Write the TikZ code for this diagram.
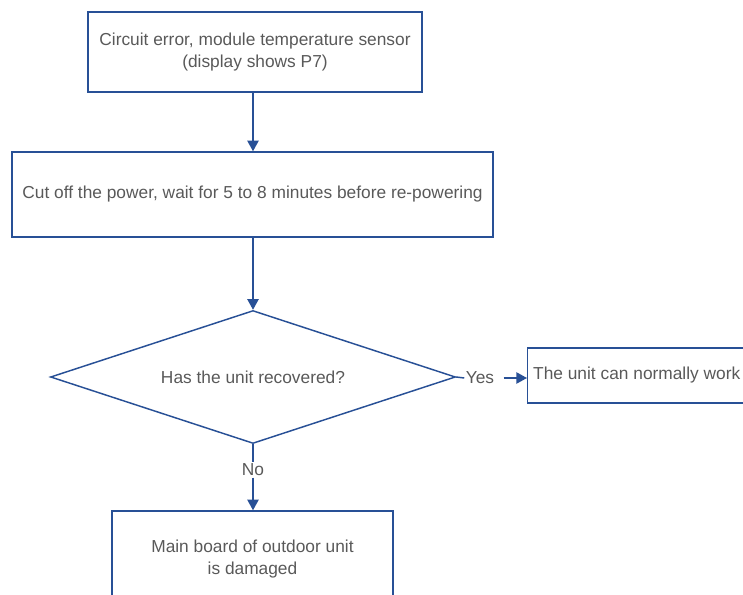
\documentclass[tikz,border=0pt]{standalone}
\usepackage{fontspec}
\setmainfont{Liberation Sans}
\usetikzlibrary{arrows.meta,shapes.geometric}
\definecolor{flowblue}{RGB}{40,80,150}
\definecolor{flowtext}{RGB}{89,89,89}

\begin{document}
\begin{tikzpicture}[
  x=0.75pt, y=-0.75pt,
  >={Triangle[length=8pt,width=8.5pt]},
  every node/.style={font=\fontsize{13}{16.5}\selectfont, text=flowtext},
  stepbox/.style={draw=flowblue, line width=1.1pt, rectangle, inner sep=0pt, align=center},
  decide/.style={draw=flowblue, line width=1.1pt, diamond, aspect=3, inner sep=0pt},
  flow/.style={draw=flowblue, line width=1.1pt}
]
  \useasboundingbox (0,0) rectangle (743,595);
  \clip (0,0) rectangle (743,595);

  \node[stepbox, minimum width=334*0.75pt, minimum height=80*0.75pt] (fault) at (255,52)
    {Circuit error, module temperature sensor\\(display shows P7)};
  \node[stepbox, minimum width=481*0.75pt, minimum height=85*0.75pt] (power) at (252.5,194.5)
    {Cut off the power, wait for 5 to 8 minutes before re-powering};
  \node[decide, minimum width=405*0.75pt, minimum height=133*0.75pt] (check) at (253,377)
    {Has the unit recovered?};
  \node[stepbox, minimum width=218*0.75pt, minimum height=55*0.75pt, anchor=west] (ok) at (527,375.5)
    {The unit can normally work};
  \node[stepbox, minimum width=281*0.75pt, minimum height=96*0.75pt] (board) at (252.5,559)
    {Main board of outdoor unit\\is damaged};

  \node[inner sep=1pt] (yes) at (480,378) {Yes};
  \node[inner sep=1pt] (no) at (253,470) {No};

  \draw[flow,->] (fault.south -| check.north) -- (power.north -| check.north);
  \draw[flow,->] (power.south -| check.north) -- (check.north);
  \draw[flow] (check.east) -- (yes.west);
  \draw[flow,->] ([xshift=6pt]yes.east) -- (ok.west |- yes.east);
  \draw[flow] (check.south) -- (no.north);
  \draw[flow,->] (no.south) -- (board.north -| no.south);
\end{tikzpicture}
\end{document}
